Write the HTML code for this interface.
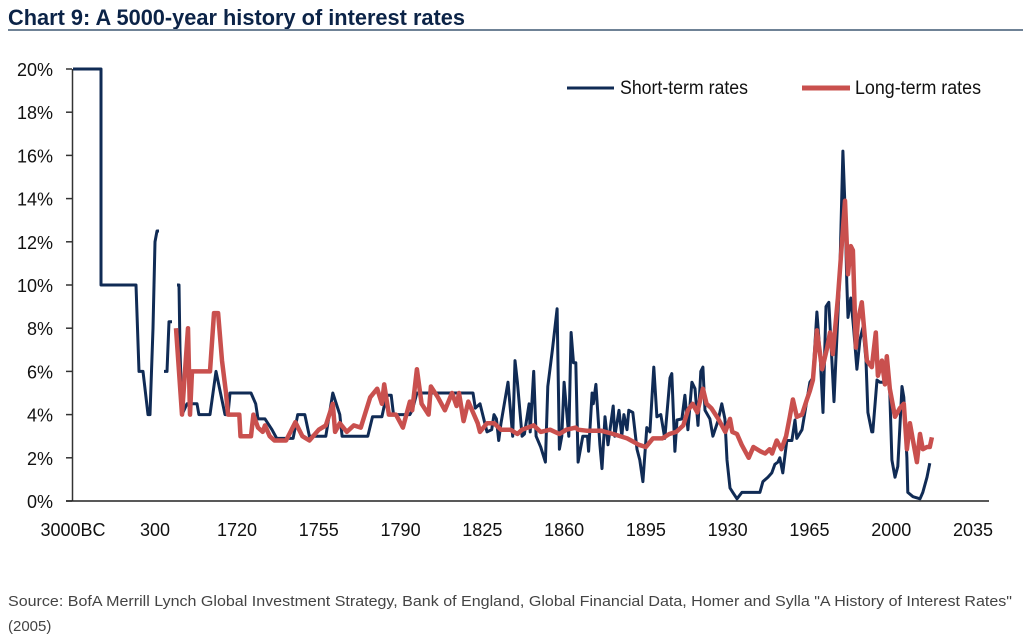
<!DOCTYPE html>
<html><head><meta charset="utf-8"><style>
body{margin:0;background:#fff;}
svg text{font-family:"Liberation Sans",sans-serif;}
</style></head><body>
<svg width="1023" height="636" viewBox="0 0 1023 636" xmlns="http://www.w3.org/2000/svg">
<text x="8" y="25" font-size="22" font-weight="bold" fill="#0b2347" textLength="457" lengthAdjust="spacingAndGlyphs">Chart 9: A 5000-year history of interest rates</text>
<line x1="8" y1="30" x2="1023" y2="30" stroke="#6f8296" stroke-width="2"/>
<g id="axes"></g>
<g id="series"></g>
<g>
<line x1="567" y1="88" x2="614" y2="88" stroke="#102b55" stroke-width="3"/>
<text x="620" y="94" font-size="19" fill="#111" textLength="128" lengthAdjust="spacingAndGlyphs">Short-term rates</text>
<line x1="802" y1="88" x2="850" y2="88" stroke="#c9504e" stroke-width="5"/>
<text x="855" y="94" font-size="19" fill="#111" textLength="126" lengthAdjust="spacingAndGlyphs">Long-term rates</text>
</g>
<text x="8" y="606" font-size="15" fill="#444" textLength="1004" lengthAdjust="spacingAndGlyphs">Source: BofA Merrill Lynch Global Investment Strategy, Bank of England, Global Financial Data, Homer and Sylla "A History of Interest Rates"</text>
<text x="8" y="631" font-size="15" fill="#444">(2005)</text>
</svg>
<script>
const xTickLabels=["3000BC","300","1720","1755","1790","1825","1860","1895","1930","1965","2000","2035"];
const xTickYears=[-3000,300,1720,1755,1790,1825,1860,1895,1930,1965,2000,2035];
const yTicks=[0,2,4,6,8,10,12,14,16,18,20];
const shortYears=[-3000,-1873,-1873,-465,-344,-183,18,99,219,300,335,369,400,456,508,542,594,640,681,716,733,768,854,1027,1060,1253,1357,1513,1565,1599,1720,
1726,1728,1729,1732,1735,1737,1744,1746,1749,1751,1758,1761,1764,1765,1773,1776,1778,1782,1784,1786,1787,1790,1794,1795,1797,1821,1822,1824,1827,1829,1830,1831,1832,1833,1836,1838,1839,1840,1842,1843,1845,1845.5,1847,1848,1850,1852,1853,1855,1857,1858,1859,1860,1862,1863,1864,1865,1866,1868,1870,1870.5,1872,1872.5,1873.6,1875.3,1876.2,1877.5,1878.8,1881,1881.7,1883.5,1884.7,1885.6,1886.9,1887.7,1889.4,1891.2,1892.4,1893.7,1895.4,1896.7,1898.4,1899.7,1901.4,1903.1,1905.3,1906.1,1907.4,1908.3,1910.4,1911.7,1913,1914.7,1916,1917.3,1918.5,1919.4,1920.3,1922.4,1923.7,1925.8,1927.5,1928.8,1929.7,1931,1932.2,1934,1936.1,1943.8,1945.1,1947.2,1948.9,1950.2,1951.5,1952.3,1953.6,1955.3,1957.5,1958.8,1959.6,1961.8,1965.2,1966.5,1968.2,1969.5,1970.8,1972.1,1973.3,1974.6,1975.5,1976.7,1978,1979.3,1980.2,1981,1981.5,1982.7,1984,1985.3,1986.6,1987.9,1989.2,1990,1991.7,1992.1,1993.9,1995.1,1997.3,1998.1,1999.4,2000.3,2001.6,2002.8,2004.6,2005.4,2006.7,2007.1,2009.3,2012.3,2013.5,2015.3,2016.5];
const shortVals=[20,20,10,10,6,6,4,4,8,12,12.5,12.5,null,6,6,8.3,8.3,null,10,10,7,4,4.5,4.5,4,4,6,4,4,5,5,
5,4.5,3.8,3.8,3.3,2.9,2.9,4,4,3,3,5,4,3,3,3,3.9,3.9,4.9,4.9,4,4,4,4.2,5,5,4.3,4.5,3.2,3.3,4,3.8,2.8,3.6,5.5,3,6.5,5.5,3,3.1,4.5,3.2,6,3,2.5,1.8,5.3,7,8.9,2.4,3,5.5,3,7.8,6.4,6.4,1.8,3,3,2.3,5,4.5,5.4,2.6,1.5,3.9,2.6,4.4,3,4.2,3,4,3.3,4.2,4.1,2.4,1.9,0.9,3.4,3.2,6.2,3.9,4,2.9,5.7,5.9,2.3,3.75,3.8,4.9,3.3,5.5,5.2,3.5,6,6.2,4.2,3.8,3,3.7,4.5,3.8,1.9,0.6,0.4,0.1,0.4,0.4,0.9,1.1,1.3,1.7,1.8,2.0,1.3,2.8,2.8,3.75,2.9,3.3,5.5,5.7,8.75,6.85,4.1,9,9.2,6.5,4.6,7.5,10.5,16.2,13.6,10.1,8.5,9.4,7.9,6.1,7.45,8.05,6.5,4.1,3.2,3.2,5.6,5.5,5.5,6.4,5,1.9,1.1,1.6,5.3,4.8,2,0.4,0.2,0.1,0.4,1.1,1.75];
const longYears=[664,768,872,906,941,1253,1322,1392,1461,1530,1565,1680,1721,1721.5,1726,1727,1729,1731,1732,1734,1736,1741,1745,1748,1751,1755,1758,1761,1762,1764,1767,1770,1773,1777,1780,1782,1783,1785,1788,1791,1794,1795,1797,1799,1802,1803,1806,1809,1812,1814,1815,1817,1819,1823,1824,1827,1830,1833,1837,1840,1842,1847,1850,1854,1858,1861,1865,1866,1870,1876,1881,1887,1892,1895,1898,1902,1905,1908,1911,1913,1915,1917,1919.4,1921,1923,1926,1929,1931,1932,1934,1936,1939,1941,1944,1946,1948,1949,1951,1953,1955,1956.6,1957.9,1959.6,1961.8,1963.9,1965.2,1966.5,1968.2,1970.4,1972.6,1973.8,1975,1977.2,1980.2,1981.5,1982.7,1983.6,1984.9,1985.7,1987.4,1988.7,1989.6,1991.7,1993.4,1994.3,1996,1997.3,1998.1,1999.4,2001.6,2003.7,2005.4,2006.7,2008,2009.3,2011,2012.3,2013.5,2015.3,2016.5,2017.4];
const longVals=[8,4,8,4,6,6,8.7,8.7,6.5,5,4,4,4,3,3,4,3.4,3.2,3.5,3,2.8,2.8,3.65,3,2.8,3.3,3.5,4.5,3.2,3.6,3.2,3.5,3.4,4.8,5.2,4.5,5.4,4,4,3.4,4.6,4.2,6.1,4.5,4,5.3,4.8,4.2,5,4.4,5,3.7,4.6,3.6,3.2,3.6,3.6,3.3,3.3,3.1,3.3,3.5,3.2,3.3,3.1,3.3,3.4,3.3,3.25,3.25,3.1,2.9,2.6,2.5,2.9,2.9,3.1,3.2,3.5,4.2,4.5,4.1,5.2,4.5,4.3,3.8,3.2,3.8,3.2,3.1,2.6,2.0,2.5,2.3,2.2,2.4,2.2,2.8,2.4,3.0,3.9,4.7,3.9,4,4.7,5.1,5.6,7.9,6.1,7.1,7.8,6.8,9.4,13.9,10.5,11.8,11.6,7.1,8.3,9.2,7.6,6.5,6.2,7.8,5.8,6.5,5.4,6.7,5.2,3.9,4.3,4.5,2.4,3.6,2.8,1.8,3.1,2.4,2.5,2.5,2.95];

const NS="http://www.w3.org/2000/svg";
const bx=[-3000,300,1720,2035], px=[73,155,237,973];
function xScale(yr){for(let i=0;i<bx.length-1;i++){if(yr<=bx[i+1]||i===bx.length-2){return px[i]+(yr-bx[i])*(px[i+1]-px[i])/(bx[i+1]-bx[i]);}}}
function yScale(v){return 501-v*21.6;}
function mk(tag,attrs,parent){const e=document.createElementNS(NS,tag);for(const k in attrs)e.setAttribute(k,attrs[k]);parent.appendChild(e);return e;}
const axes=document.getElementById('axes'), series=document.getElementById('series');
yTicks.forEach(t=>{
  const tk=mk('line',{x1:66,x2:72,y1:yScale(t),y2:yScale(t),stroke:'#333','stroke-width':1.5},axes);
  
  
  const lb=mk('text',{x:53,y:yScale(t)+7,'font-size':18,'text-anchor':'end',fill:'#111'},axes);
  lb.textContent=t+'%';
  
  
});
xTickLabels.forEach((l,i)=>{
  const lb=mk('text',{x:xScale(xTickYears[i]),y:536,'font-size':18,'text-anchor':'middle',fill:'#111'},axes);
  lb.textContent=l;
  
  
});
const ya=mk('line',{x1:72.5,x2:72.5,y1:69,y2:501,stroke:'#333','stroke-width':1.5},axes);


const xa=mk('line',{x1:66,x2:989,y1:501,y2:501,stroke:'#222','stroke-width':1.5},axes);


function pathD(xs,vs){let d='',pen=false;for(let i=0;i<xs.length;i++){if(vs[i]===null){pen=false;continue;}d+=(pen?'L':'M')+xScale(xs[i]).toFixed(1)+','+yScale(vs[i]).toFixed(1);pen=true;}return d;}
const sp=mk('path',{d:pathD(shortYears,shortVals),fill:'none',stroke:'#102b55','stroke-width':3,'stroke-linejoin':'round'},series);


const lp=mk('path',{d:pathD(longYears,longVals),fill:'none',stroke:'#c9504e','stroke-width':4.5,'stroke-linejoin':'round'},series);


</script>
</body></html>
